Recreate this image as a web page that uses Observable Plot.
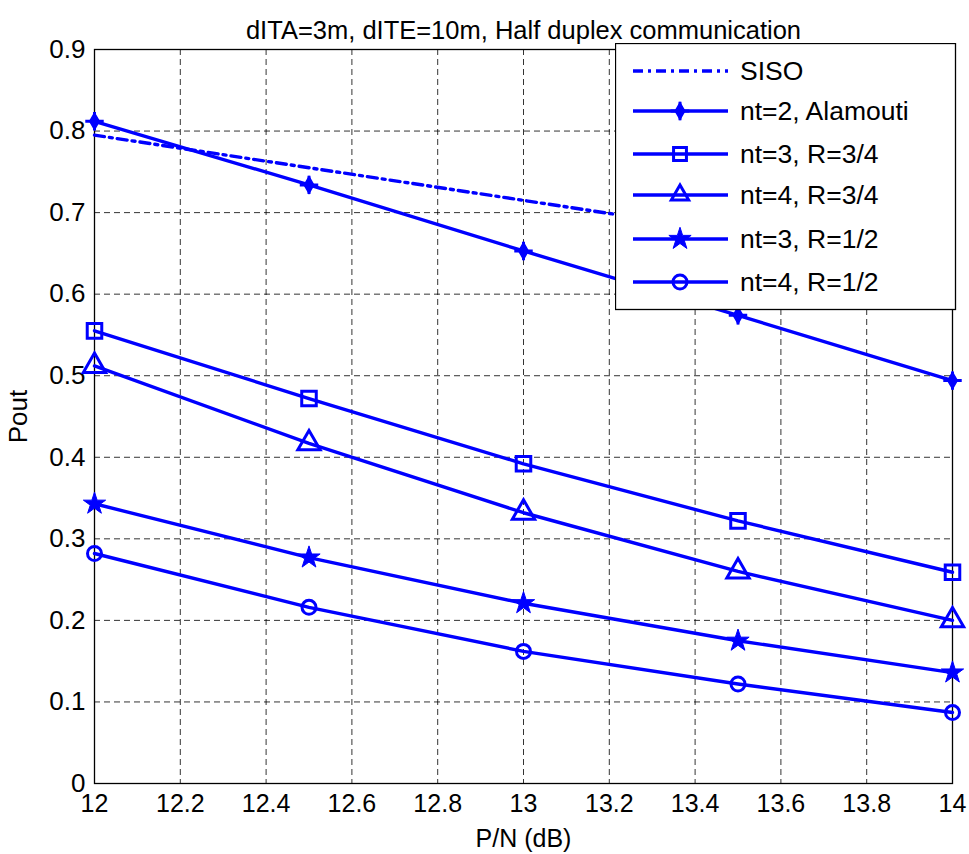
<!DOCTYPE html>
<html>
<head>
<meta charset="utf-8">
<script src="https://cdn.jsdelivr.net/npm/d3@7"></script>
<script src="https://cdn.jsdelivr.net/npm/@observablehq/plot@0.6"></script>
<style>
  html, body { margin: 0; padding: 0; background: #fff; }
  #wrap { position: relative; width: 969px; height: 854px; font-family: 'Liberation Sans', Arial, sans-serif; }
  #legend { position: absolute; left: 615px; top: 43px; }
</style>
</head>
<body>
<div id="wrap"></div>
<script>
// ---- data ----
const xValues = [12, 12.5, 13, 13.5, 14];
const siso      = [0.795, 0.755, 0.715, 0.675, 0.635];
const alamouti  = [0.812, 0.734, 0.653, 0.574, 0.494];
const nt3R34    = [0.555, 0.472, 0.392, 0.322, 0.259];
const nt4R34    = [0.512, 0.417, 0.332, 0.260, 0.200];
const nt3R12    = [0.343, 0.277, 0.221, 0.175, 0.136];
const nt4R12    = [0.282, 0.216, 0.162, 0.122, 0.087];
const seriesNames = ["SISO", "nt=2, Alamouti", "nt=3, R=3/4", "nt=4, R=3/4", "nt=3, R=1/2", "nt=4, R=1/2"];
const xTicks = [12, 12.2, 12.4, 12.6, 12.8, 13, 13.2, 13.4, 13.6, 13.8, 14];
const yTicks = [0, 0.1, 0.2, 0.3, 0.4, 0.5, 0.6, 0.7, 0.8, 0.9];
const titleText = "dITA=3m, dITE=10m, Half duplex communication";
const xLabel = "P/N (dB)";
const yLabel = "Pout";

const seriesValues = [siso, alamouti, nt3R34, nt4R34, nt3R12, nt4R12];
const rows = [];
seriesNames.forEach((name, i) => {
  seriesValues[i].forEach((v, j) => rows.push({series: name, x: xValues[j], y: v}));
});
const blue = "#0000ff";
const sel = name => rows.filter(d => d.series === name);
const LW = 3.4, MW = 3;

const chart = Plot.plot({
  width: 969,
  height: 854,
  marginLeft: 94,
  marginRight: 17,
  marginTop: 49,
  marginBottom: 71,
  style: {fontFamily: "'Liberation Sans', Arial, sans-serif", fontSize: "26px", background: "#fff", color: "#000", overflow: "visible"},
  x: {domain: [12, 14]},
  y: {domain: [0, 0.9]},
  marks: [
    Plot.gridX(xTicks, {stroke: "#000", strokeOpacity: 0.8, strokeWidth: 1, strokeDasharray: "6,4"}),
    Plot.gridY(yTicks, {stroke: "#000", strokeOpacity: 0.8, strokeWidth: 1, strokeDasharray: "6,4"}),
    Plot.axisX({ticks: xTicks, tickFormat: d => String(d), tickSize: 0, tickPadding: 11, fontSize: 25,
      label: xLabel, labelAnchor: "center", labelArrow: "none", labelOffset: 63}),
    Plot.axisY({ticks: yTicks, tickFormat: d => String(d), tickSize: 0, tickPadding: 9, fontSize: 26,
      label: yLabel, labelAnchor: "center", labelArrow: "none", labelOffset: 86}),
    Plot.frame({stroke: "#000", strokeWidth: 1.3}),
    Plot.line(sel("SISO"), {x: "x", y: "y", stroke: blue, strokeWidth: LW, strokeDasharray: "10,5,3,5"}),
    Plot.line(rows.filter(d => d.series !== "SISO"), {x: "x", y: "y", z: "series", stroke: blue, strokeWidth: LW}),
    Plot.dot(sel("nt=2, Alamouti"), {x: "x", y: "y", symbol: "diamond", r: 5, fill: blue, stroke: blue, strokeWidth: 1.5}),
    Plot.dot(sel("nt=2, Alamouti"), {x: "x", y: "y", symbol: "plus", r: 6, stroke: blue, strokeWidth: MW}),
    Plot.dot(sel("nt=3, R=3/4"), {x: "x", y: "y", symbol: "square", r: 8.2, fill: "none", stroke: blue, strokeWidth: MW}),
    Plot.dot(sel("nt=4, R=3/4"), {x: "x", y: "y", symbol: "triangle", r: 8.3, fill: "none", stroke: blue, strokeWidth: MW}),
    Plot.dot(sel("nt=3, R=1/2"), {x: "x", y: "y", symbol: "star", r: 7, fill: blue, stroke: blue, strokeWidth: 1}),
    Plot.dot(sel("nt=4, R=1/2"), {x: "x", y: "y", symbol: "circle", r: 7, fill: "none", stroke: blue, strokeWidth: MW}),
    Plot.text([titleText], {frameAnchor: "top", dy: -29, fontSize: 25.5, fill: "#000"})
  ]
});
const wrap = document.getElementById("wrap");
wrap.appendChild(chart);

// ---- legend overlay ----
const lw = 340, lh = 266;
const legend = d3.create("svg").attr("id", "legend").attr("width", lw + 2).attr("height", lh + 2);
legend.append("rect").attr("x", 0.5).attr("y", 0.5).attr("width", lw).attr("height", lh)
  .attr("fill", "#fff").attr("stroke", "#000").attr("stroke-width", 1.3);
const rowY = [28, 68, 111, 152, 196, 239];
const lineX0 = 18, lineX1 = 113, markX = 65, textX = 125;
const sym = (type, r) => d3.symbol(type, Math.PI * r * r)();
seriesNames.forEach((name, i) => {
  const g = legend.append("g").attr("transform", `translate(0,${rowY[i]})`);
  g.append("line").attr("x1", lineX0).attr("x2", lineX1).attr("y1", 0).attr("y2", 0)
    .attr("stroke", blue).attr("stroke-width", LW)
    .attr("stroke-dasharray", i === 0 ? "10,5,3,5" : null);
  const m = g.append("g").attr("transform", `translate(${markX},0)`);
  if (i === 1) {
    m.append("path").attr("d", sym(d3.symbolDiamond, 5)).attr("fill", blue).attr("stroke", blue).attr("stroke-width", 1.5);
    m.append("path").attr("d", sym(d3.symbolPlus, 6)).attr("fill", "none").attr("stroke", blue).attr("stroke-width", MW);
  } else if (i === 2) {
    m.append("path").attr("d", sym(d3.symbolSquare2, 8.2)).attr("fill", "none").attr("stroke", blue).attr("stroke-width", MW);
  } else if (i === 3) {
    m.append("path").attr("d", sym(d3.symbolTriangle2, 8.3)).attr("fill", "none").attr("stroke", blue).attr("stroke-width", MW);
  } else if (i === 4) {
    m.append("path").attr("d", sym(d3.symbolStar, 7)).attr("fill", blue).attr("stroke", blue).attr("stroke-width", 1);
  } else if (i === 5) {
    m.append("circle").attr("r", 7).attr("fill", "none").attr("stroke", blue).attr("stroke-width", MW);
  }
  g.append("text").attr("x", textX).attr("y", 0).attr("dy", "0.35em")
    .attr("font-size", 26.5).attr("font-family", "'Liberation Sans', Arial, sans-serif").attr("fill", "#000")
    .text(name);
});
wrap.appendChild(legend.node());
</script>
</body>
</html>
